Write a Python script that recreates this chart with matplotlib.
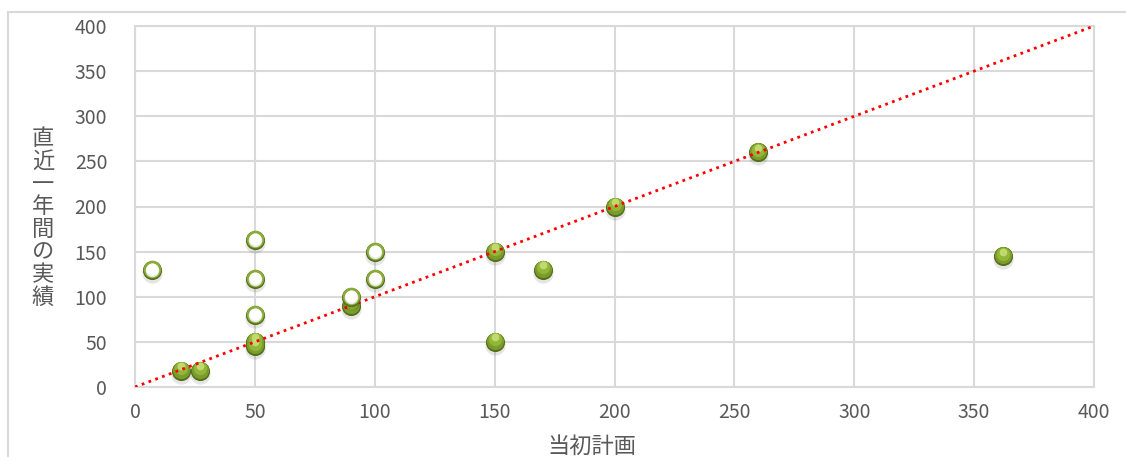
import matplotlib
matplotlib.use("Agg")
import matplotlib.pyplot as plt
from matplotlib.transforms import offset_copy
from matplotlib.patches import Rectangle

# 当初計画 vs 直近一年間の実績
plan_filled = [19, 27, 50, 50, 90, 150, 150, 170, 200, 260, 362]
actual_filled = [18, 18, 45, 50, 90, 150, 50, 130, 200, 260, 145]

plan_open = [7, 50, 50, 50, 90, 100, 100]
actual_open = [130, 163, 120, 80, 100, 150, 120]

ref_line_x = [0, 400]
ref_line_y = [0, 400]

ticks = [0, 50, 100, 150, 200, 250, 300, 350, 400]
xlabel = "当初計画"
ylabel = "直近一年間の実績"

plt.rcParams['font.family'] = ['Noto Sans CJK JP', 'DejaVu Sans']
text_color = "#595959"
grid_color = "#d9d9d9"

fig = plt.figure(figsize=(11.26, 4.57), dpi=100)
ax = fig.add_axes([135 / 1126, 1 - 387 / 457, (1094 - 135) / 1126, (387 - 26) / 457])

# outer chart frame
fig.patches.append(Rectangle((8 / 1126, -0.1), 1.2, (1 - 12 / 457) + 0.1,
                             transform=fig.transFigure, fill=False,
                             edgecolor="#d9d9d9", linewidth=1.5))

ax.set_xlim(0, 400)
ax.set_ylim(0, 400)
ax.set_xticks(ticks)
ax.set_yticks(ticks)
ax.grid(True, color=grid_color, linewidth=1.5)
ax.set_axisbelow(True)
for sp in ax.spines.values():
    sp.set_color(grid_color)
    sp.set_linewidth(1.5)
ax.tick_params(length=0, labelsize=14, colors=text_color)
ax.tick_params(axis='y', pad=20)
ax.tick_params(axis='x', pad=11)

def shifted(dy):
    return offset_copy(ax.transData, fig=fig, x=0, y=dy, units='dots')

S = 190
# shaded spheres
ax.scatter(plan_filled, actual_filled, s=S * 1.12, color="#000000", alpha=0.10,
           linewidths=0, transform=shifted(-3), zorder=4, clip_on=False)
ax.scatter(plan_filled, actual_filled, s=S, color="#56701b", linewidths=0,
           zorder=5, clip_on=False)
ax.scatter(plan_filled, actual_filled, s=S * 0.80, color="#7a9c2b", linewidths=0,
           transform=shifted(1), zorder=6, clip_on=False)
ax.scatter(plan_filled, actual_filled, s=S * 0.48, color="#92b638", linewidths=0,
           transform=shifted(2.5), zorder=7, clip_on=False)
ax.scatter(plan_filled, actual_filled, s=S * 0.16, color="#c6df78", linewidths=0,
           alpha=0.9, transform=shifted(4.5), zorder=8, clip_on=False)

# y = x reference line
ax.plot(ref_line_x, ref_line_y, color="#ff0000", linestyle=(0, (1, 1.6)),
        linewidth=2, zorder=9)

# hollow rings
ax.scatter(plan_open, actual_open, s=S * 1.12, color="#000000", alpha=0.10,
           linewidths=0, transform=shifted(-3), zorder=10, clip_on=False)
ax.scatter(plan_open, actual_open, s=S, color="#56701b", linewidths=0,
           zorder=11, clip_on=False)
ax.scatter(plan_open, actual_open, s=S * 0.85, color="#8aab3a", linewidths=0,
           transform=shifted(1), zorder=12, clip_on=False)
ax.scatter(plan_open, actual_open, s=S * 0.50, color="#e8eee0", linewidths=0,
           transform=shifted(-0.5), zorder=13, clip_on=False)
ax.scatter(plan_open, actual_open, s=S * 0.40, color="#ffffff", linewidths=0,
           transform=shifted(0.5), zorder=14, clip_on=False)

fig.text(592 / 1126, 1 - 446 / 457, xlabel, fontsize=16, color=text_color,
         ha='center', va='center')
fig.text(43 / 1126, 1 - 218 / 457, "\n".join(ylabel), fontsize=16,
         color=text_color, ha='center', va='center', linespacing=0.98)

fig.savefig("out.png", dpi=100)
